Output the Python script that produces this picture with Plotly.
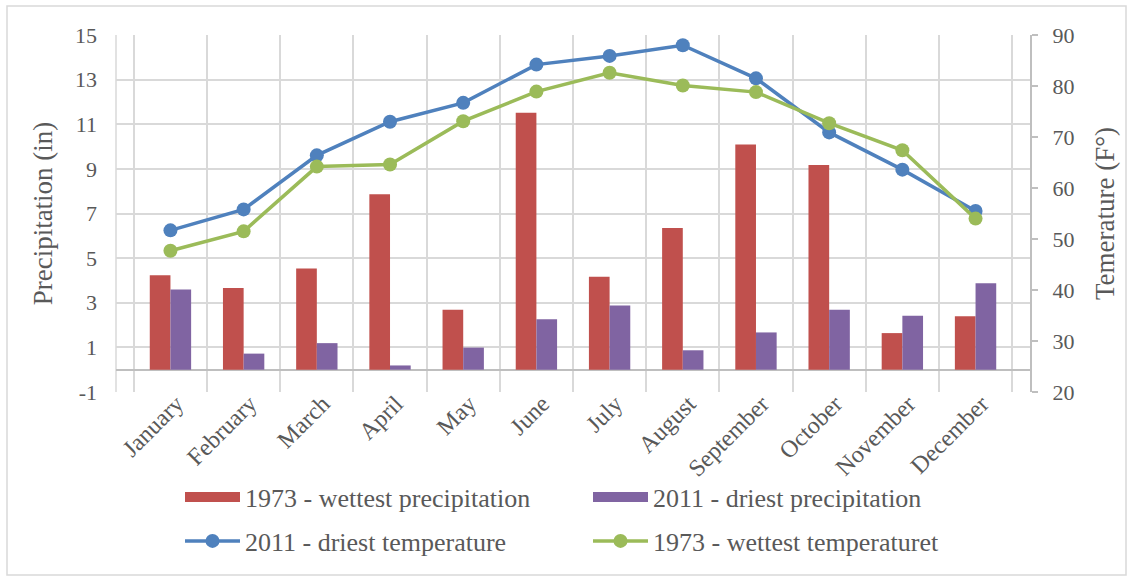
import plotly.graph_objects as go

months = ["January", "February", "March", "April", "May", "June", "July",
          "August", "September", "October", "November", "December"]
precip_1973 = [4.23, 3.66, 4.53, 7.86, 2.69, 11.51, 4.17, 6.35, 10.09, 9.17, 1.64, 2.39]
precip_2011 = [3.59, 0.72, 1.19, 0.19, 0.99, 2.26, 2.88, 0.87, 1.67, 2.69, 2.42, 3.87]
temp_2011 = [51.7, 55.8, 66.4, 73.0, 76.7, 84.2, 85.9, 88.0, 81.5, 70.9, 63.6, 55.5]
temp_1973 = [47.7, 51.5, 64.2, 64.6, 73.1, 78.9, 82.6, 80.1, 78.8, 72.7, 67.4, 54.0]
left_ticks = [-1, 1, 3, 5, 7, 9, 11, 13, 15]

RED = "#C0504D"
PURPLE = "#8064A2"
BLUE = "#4F81BD"
GREEN = "#9BBB59"
TXT = "#595959"
GRID = "#D9D9D9"
FONT = "Liberation Serif"

fig = go.Figure()
fig.add_trace(go.Bar(x=months, y=precip_1973, name="1973 - wettest precipitation",
                     marker=dict(color=RED, line=dict(width=0)),
                     legendgroup="wet", showlegend=False))
fig.add_trace(go.Bar(x=months, y=precip_2011, name="2011 - driest precipitation",
                     marker=dict(color=PURPLE, line=dict(width=0)),
                     legendgroup="dry", showlegend=False))
fig.add_trace(go.Scatter(x=months, y=temp_2011, name="2011 - driest temperature", yaxis="y2",
                         mode="lines+markers", line=dict(color=BLUE, width=3.5),
                         marker=dict(size=14, color=BLUE), legend="legend2"))
fig.add_trace(go.Scatter(x=months, y=temp_1973, name="1973 - wettest temperaturet", yaxis="y2",
                         mode="lines+markers", line=dict(color=GREEN, width=3.5),
                         marker=dict(size=14, color=GREEN), legend="legend2"))
# legend swatches for the bar series (wide rectangles, as in the original)
fig.add_trace(go.Scatter(x=[None], y=[None], mode="lines", name="1973 - wettest precipitation",
                         line=dict(color=RED, width=14), legendgroup="wet", legend="legend",
                         hoverinfo="skip"))
fig.add_trace(go.Scatter(x=[None], y=[None], mode="lines", name="2011 - driest precipitation",
                         line=dict(color=PURPLE, width=14), legendgroup="dry", legend="legend",
                         hoverinfo="skip"))

W, H = 1130, 578
ml, mr, mt, mb = 116, 100, 35, 186
pw, ph = W - ml - mr, H - mt - mb

def px(x):
    return (x - ml) / pw

def py(y):
    return (H - mb - y) / ph

leg_common = dict(orientation="h", xanchor="left", yanchor="middle",
                  entrywidth=338, entrywidthmode="pixels", itemwidth=55,
                  font=dict(family=FONT, size=26, color=TXT),
                  bgcolor="rgba(0,0,0,0)")

fig.update_layout(
    width=W, height=H,
    margin=dict(l=ml, r=mr, t=mt, b=mb, autoexpand=False),
    paper_bgcolor="white", plot_bgcolor="white",
    font=dict(family=FONT, color=TXT, size=22),
    barmode="group", bargap=0.435, bargroupgap=0,
    showlegend=True,
    legend=dict(x=px(180), y=py(497), **leg_common),
    legend2=dict(x=px(180), y=py(541), **leg_common),
    xaxis=dict(type="category", tickson="boundaries", showgrid=True, gridcolor=GRID,
               gridwidth=1.5, tickangle=-45, ticks="", showline=False,
               ticklabelshift=6, ticklabelstandoff=-8,
               tickfont=dict(family=FONT, size=24, color=TXT)),
    yaxis=dict(range=[-1, 15], tickmode="array", tickvals=left_ticks,
               ticktext=[str(v) for v in left_ticks], showgrid=True, gridcolor=GRID,
               gridwidth=1.5, zeroline=True, zerolinecolor="#BFBFBF", zerolinewidth=2,
               showline=False, ticks="", ticklabelstandoff=18,
               tickfont=dict(family=FONT, size=22, color=TXT),
               title=dict(text="Precipitation (in)", font=dict(family=FONT, size=27, color=TXT),
                          standoff=14)),
    yaxis2=dict(range=[20, 90], dtick=10, overlaying="y", side="right", showgrid=False,
                zeroline=False, showline=True, linecolor="#BFBFBF", linewidth=2,
                ticks="outside", ticklen=6, tickcolor="#BFBFBF", tickwidth=2,
                ticklabelstandoff=10,
                tickfont=dict(family=FONT, size=22, color=TXT),
                title=dict(text="Temerature (F°)", font=dict(family=FONT, size=27, color=TXT),
                           standoff=22)),
    shapes=[
        dict(type="rect", xref="paper", yref="paper",
             x0=px(7), x1=px(1126), y0=py(575), y1=py(6),
             line=dict(color=GRID, width=1.5), fillcolor="rgba(0,0,0,0)", layer="below"),
        dict(type="line", xref="paper", yref="paper", x0=0, x1=0, y0=0, y1=1,
             line=dict(color=GRID, width=1.5), layer="below"),
    ],
)

fig.write_html("out.html")
